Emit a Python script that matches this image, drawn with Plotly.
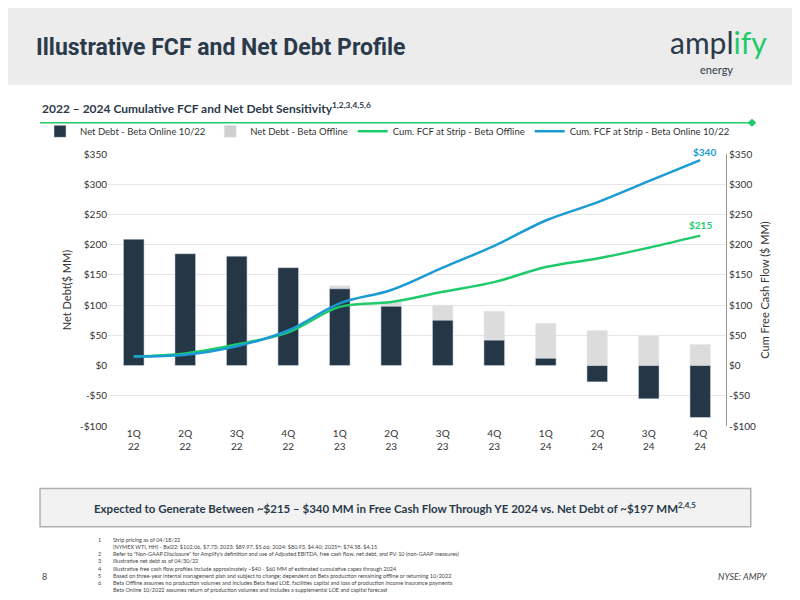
import plotly.graph_objects as go

quarters = ["1Q<br>22", "2Q<br>22", "3Q<br>22", "4Q<br>22", "1Q<br>23", "2Q<br>23",
            "3Q<br>23", "4Q<br>23", "1Q<br>24", "2Q<br>24", "3Q<br>24", "4Q<br>24"]
debt_online = [209, 185, 181, 162, 127, 98, 75, 42, 12, -27, -55, -86]
debt_offline = [209, 185, 181, 162, 132, 105, 100, 90, 70, 58, 50, 35]
fcf_offline = [15, 20, 35, 55, 97, 105, 122, 138, 163, 177, 195, 215]
fcf_online = [15, 18, 32, 58, 103, 125, 162, 198, 240, 270, 305, 340]
tick_vals = [-100, -50, 0, 50, 100, 150, 200, 250, 300, 350]
tick_text = ["-$100", "-$50", "$0", "$50", "$100", "$150", "$200", "$250", "$300", "$350"]

NAVY = "#253646"
GREEN = "#1ecb6b"
BLUE = "#1a9bd4"
FONT = "Lato"

fig = go.Figure()
fig.add_trace(go.Bar(x=quarters, y=debt_offline, name="Net Debt - Beta Offline",
                     marker=dict(color="#dcdcdc"), width=0.4, showlegend=False))
fig.add_trace(go.Bar(x=quarters, y=debt_online, name="Net Debt - Beta Online 10/22",
                     marker=dict(color=NAVY), width=0.4))
fig.add_trace(go.Bar(x=[None], y=[None], name="Net Debt - Beta Offline",
                     marker=dict(color="#cfcfcf")))
fig.add_trace(go.Scatter(x=quarters, y=fcf_offline, name="Cum. FCF at Strip - Beta Offline",
                         mode="lines", line=dict(color=GREEN, width=2.5, shape="spline"),
                         yaxis="y2"))
fig.add_trace(go.Scatter(x=quarters, y=fcf_online, name="Cum. FCF at Strip - Beta Online 10/22",
                         mode="lines", line=dict(color=BLUE, width=2.5, shape="spline"),
                         yaxis="y2"))

fig.add_annotation(x=quarters[-1], y=fcf_online[-1], yref="y2", text="<b>$340</b>",
                   showarrow=False, xanchor="center", yanchor="bottom", xshift=4,
                   font=dict(color=BLUE, size=10, family=FONT))
fig.add_annotation(x=quarters[-1], y=fcf_offline[-1], yref="y2", text="<b>$215</b>",
                   showarrow=False, xanchor="center", yanchor="bottom", yshift=3,
                   font=dict(color=GREEN, size=10, family=FONT))

fig.update_layout(
    width=800, height=600,
    paper_bgcolor="white", plot_bgcolor="white",
    margin=dict(l=100, r=82, t=146, b=182),
    barmode="overlay",
    font=dict(family=FONT, size=10, color="#333333"),
    legend=dict(orientation="h", x=-0.11, y=1.03, xanchor="left", yanchor="bottom",
                font=dict(size=9.5, color="#333"), traceorder="normal",
                bgcolor="rgba(0,0,0,0)", itemwidth=30, tracegroupgap=0),
    xaxis=dict(showgrid=False, ticks="", tickfont=dict(size=10)),
    yaxis=dict(range=[-100, 350], tickvals=tick_vals, ticktext=tick_text, showgrid=True,
               gridcolor="#e6e6e6", zeroline=True, zerolinecolor="#d0d0d0",
               title=dict(text="Net Debt($ MM)", font=dict(size=11), standoff=6),
               showline=False),
    yaxis2=dict(range=[-100, 350], tickvals=tick_vals, ticktext=tick_text, overlaying="y",
                side="right", showgrid=False, showline=True, linecolor="#999",
                title=dict(text="Cum Free Cash Flow ($ MM)", font=dict(size=11), standoff=6)),
    shapes=[
        dict(type="rect", xref="paper", yref="paper", x0=-0.2, x1=1.2, y0=1.255, y1=1.6,
             fillcolor="#ececec", line=dict(width=0), layer="above"),
        dict(type="line", xref="paper", yref="paper", x0=-0.11, x1=1.04, y0=1.115, y1=1.115,
             line=dict(color=GREEN, width=1.5)),
        dict(type="path", xref="paper", yref="paper",
             path="M 1.035 1.115 L 1.042 1.13 L 1.049 1.115 L 1.042 1.10 Z",
             fillcolor=GREEN, line=dict(width=0)),
        dict(type="rect", xref="paper", yref="paper", x0=-0.11, x1=1.04, y0=-0.23, y1=-0.37,
             fillcolor="#f2f2f2", line=dict(color="#b0b0b0", width=1.5)),
    ],
    annotations=list(fig.layout.annotations) + [
        dict(text="<b>Illustrative FCF and Net Debt Profile</b>", xref="paper", yref="paper",
             x=-0.12, y=1.39, xanchor="left", yanchor="middle", showarrow=False,
             font=dict(size=23, color="#2b3a4a", family="Roboto")),
        dict(text="<span style='font-size:30px;color:#2b3a4a'>ampl<span style='color:" + GREEN + "'>ify</span></span>",
             xref="paper", yref="paper", x=1.07, y=1.41, xanchor="right", yanchor="middle",
             showarrow=False, font=dict(size=11, family="Lato")),
        dict(text="energy", xref="paper", yref="paper", x=0.985, y=1.31, xanchor="center",
             yanchor="middle", showarrow=False, font=dict(size=11, color="#2b3a4a")),
        dict(text="<b>2022 – 2024 Cumulative FCF and Net Debt Sensitivity<sup>1,2,3,4,5,6</sup></b>",
             xref="paper", yref="paper", x=-0.11, y=1.17, xanchor="left", yanchor="middle",
             showarrow=False, font=dict(size=12, color="#2b3a4a")),
        dict(text="<b>Expected to Generate Between ~$215 – $340 MM in Free Cash Flow Through YE 2024 vs. Net Debt of ~$197 MM<sup>2,4,5</sup></b>",
             xref="paper", yref="paper", x=0.465, y=-0.30, xanchor="center", yanchor="middle",
             showarrow=False, font=dict(size=11.5, color="#2b3a4a")),
        dict(text="1<br> <br>2<br>3<br>4<br>5<br>6<br> ", xref="paper", yref="paper",
             x=-0.02, y=-0.40, xanchor="left", yanchor="top", showarrow=False, align="left",
             font=dict(size=5.5, color="#444")),
        dict(text="Strip pricing as of 04/18/22<br>(NYMEX WTI, HH) - Bal22: $102.06, $7.73; 2023: $89.97, $5.66; 2024: $80.93, $4.40; 2025+: $74.58, $4.15<br>"
                  "Refer to \"Non-GAAP Disclosure\" for Amplify's definition and use of Adjusted EBITDA, free cash flow, net debt, and PV-10 (non-GAAP measures)<br>"
                  "Illustrative net debt as of 04/30/22<br>"
                  "Illustrative free cash flow profiles include approximately ~$40 - $60 MM of estimated cumulative capex through 2024<br>"
                  "Based on three-year internal management plan and subject to change; dependent on Beta production remaining offline or returning 10/2022<br>"
                  "Beta Offline assumes no production volumes and includes Beta fixed LOE, facilities capital and loss of production income insurance payments<br>"
                  "Beta Online 10/2022 assumes return of production volumes and includes a supplemental LOE and capital forecast",
             xref="paper", yref="paper", x=0.005, y=-0.40, xanchor="left", yanchor="top",
             showarrow=False, align="left", font=dict(size=5.5, color="#444")),
        dict(text="8", xref="paper", yref="paper", x=-0.11, y=-0.58, xanchor="left",
             showarrow=False, font=dict(size=9, color="#444")),
        dict(text="<i>NYSE: AMPY</i>", xref="paper", yref="paper", x=1.07, y=-0.58,
             xanchor="right", showarrow=False, font=dict(size=9, color="#444")),
    ],
)

fig.write_html("out.html")
